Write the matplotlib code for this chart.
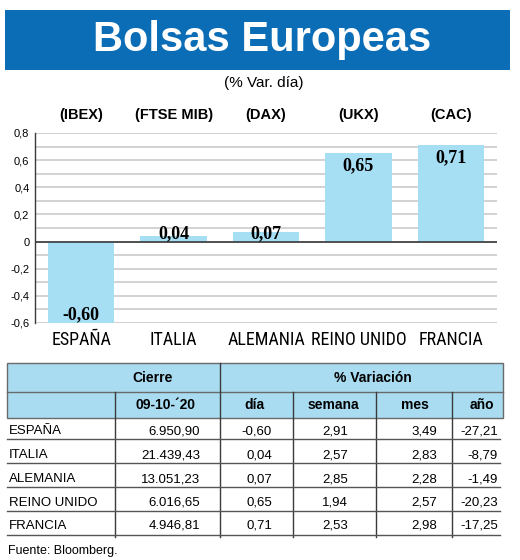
import numpy as np
import matplotlib
matplotlib.use('Agg')
import matplotlib.pyplot as plt
from matplotlib import font_manager
from matplotlib.patches import Rectangle
from matplotlib.transforms import blended_transform_factory


# datos
paises = ['ESPAÑA', 'ITALIA', 'ALEMANIA', 'REINO UNIDO', 'FRANCIA']
indices = ['(IBEX)', '(FTSE MIB)', '(DAX)', '(UKX)', '(CAC)']
var_dia = [-0.60, 0.04, 0.07, 0.65, 0.71]
cierre = [6950.90, 21439.43, 13051.23, 6016.65, 4946.81]
var_semana = [2.91, 2.57, 2.85, 1.94, 2.53]
var_mes = [3.49, 2.83, 2.28, 2.57, 2.98]
var_anio = [-27.21, -8.79, -1.49, -20.23, -17.25]
fecha = '09-10-´20'
y_ticks = [-0.6, -0.4, -0.2, 0, 0.2, 0.4, 0.6, 0.8]


def pick(*names):
    avail = set(f.name for f in font_manager.fontManager.ttflist)
    for n in names:
        if n in avail:
            return n
    return 'DejaVu Sans'


SANS = pick('Liberation Sans', 'Arial', 'DejaVu Sans')
NARROW = pick('Liberation Sans Narrow', 'Roboto Condensed', 'Open Sans Condensed', SANS)
SERIF = pick('Liberation Serif', 'DejaVu Serif')


def es(v, dec=2):
    # formato espanol: punto para miles, coma para decimales
    s = '{:,.{}f}'.format(v, dec)
    return s.replace(',', 'X').replace('.', ',').replace('X', '.')


def tick_es(v):
    if abs(v) < 1e-9:
        return '0'
    return es(v, 1)


BLUE = '#0b6db5'
LIGHT = '#a6def4'
HEAD = '#a9dcf1'
DARK = '#3a3a3a'

fig = plt.figure(figsize=(5.2, 5.6), dpi=100)

# capa en pixeles para banner y tabla
ov = fig.add_axes([0, 0, 1, 1])
ov.set_xlim(0, 520)
ov.set_ylim(560, 0)
ov.axis('off')

ov.add_patch(Rectangle((5, 10), 505, 60, facecolor=BLUE, edgecolor='none'))
ov.text(262, 40, 'Bolsas Europeas', color='white', fontsize=30, fontweight='bold',
        family=SANS, ha='center', va='center')
ov.text(264, 83, '(% Var. día)', fontsize=11, family=SANS, ha='center', va='center')

# grafico de barras
ax = fig.add_axes([35 / 520, (560 - 323) / 560, 462 / 520, 190 / 560])
x = np.arange(len(paises))
ax.set_xlim(-0.5, len(paises) - 0.5)
ax.set_ylim(-0.6, 0.8)
for g in np.arange(-6, 9) / 10:
    ax.axhline(g, color='#cfcfcf', lw=1.3, zorder=1)
ax.bar(x, var_dia, width=0.72, color=LIGHT, zorder=2)
ax.axhline(0, color=DARK, lw=1.2, zorder=3)

for spine in ['top', 'right', 'bottom']:
    ax.spines[spine].set_visible(False)
ax.spines['left'].set_color(DARK)
ax.spines['left'].set_linewidth(1)
ax.set_yticks(y_ticks)
ax.set_yticklabels([tick_es(t) for t in y_ticks], fontsize=8, family=SANS)
ax.set_xticks(x)
ax.set_xticklabels(paises, fontsize=13, family=NARROW)
ax.tick_params(axis='both', length=0)
ax.tick_params(axis='y', pad=4)
ax.tick_params(axis='x', pad=6)

for xi, v in zip(x, var_dia):
    if v < 0:
        ax.text(xi, v + 0.03, es(v), ha='center', va='baseline', fontsize=13,
                fontweight='bold', family=SERIF, zorder=4)
    elif v < 0.2:
        ax.text(xi, 0.025, es(v), ha='center', va='baseline', fontsize=13,
                fontweight='bold', family=SERIF, zorder=4)
    else:
        ax.text(xi, v - 0.03, es(v), ha='center', va='top', fontsize=13,
                fontweight='bold', family=SERIF, zorder=4)

tr = blended_transform_factory(ax.transData, ax.transAxes)
for xi, lab in zip(x, indices):
    ax.text(xi, 1.095, lab, transform=tr, ha='center', va='center', fontsize=10.5,
            fontweight='bold', family=SANS)

# tabla
top, mid, bot = 363, 392, 418
left, right = 7, 503
ov.add_patch(Rectangle((left, top), right - left, bot - top, facecolor=HEAD,
                       edgecolor='#6a6a6a', lw=1))
ov.plot([left, right], [mid, mid], color='#6a6a6a', lw=1)

row_y = [431, 455, 479, 502.5, 526]
line_y = [439, 463, 487, 511, 535]
ov.plot([220, 220], [top, 537], color=DARK, lw=1)
for cx in [115, 293, 376, 452]:
    ov.plot([cx, cx], [mid, 537], color=DARK, lw=1)
for ly in line_y:
    ov.plot([left, 500], [ly, ly], color='#555555', lw=1)

hkw = dict(fontsize=10, fontweight='bold', family=SANS, ha='center', va='center')
ov.text(153, 378, 'Cierre', **hkw)
ov.text(373, 378, '% Variación', **hkw)
ov.text(166, 405, fecha, **hkw)
ov.text(254, 405, 'día', **hkw)
ov.text(333, 405, 'semana', **hkw)
ov.text(415, 405, 'mes', **hkw)
ov.text(482, 405, 'año', **hkw)

cols = [(cierre, 200), (var_dia, 272), (var_semana, 348), (var_mes, 437), (var_anio, 498)]
dkw = dict(fontsize=9.5, family=SANS, va='center')
for i, ry in enumerate(row_y):
    ov.text(9, ry, paises[i], ha='left', **dkw)
    for vals, rx in cols:
        ov.text(rx, ry, es(vals[i]), ha='right', **dkw)

ov.text(8, 551, 'Fuente: Bloomberg.', fontsize=9, family=SANS, ha='left', va='center')

fig.savefig('out.png', dpi=100)
